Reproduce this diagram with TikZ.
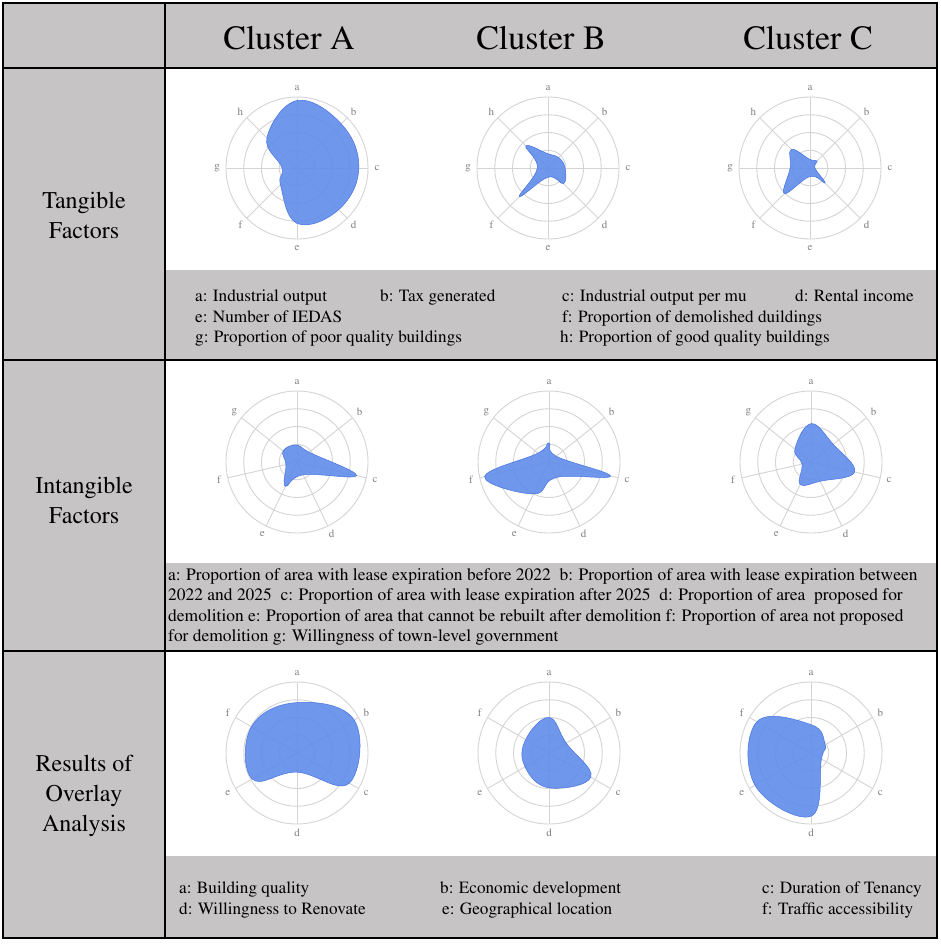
\documentclass[tikz,border=0pt]{standalone}
\usepackage[T1]{fontenc}
\renewcommand{\rmdefault}{ptm}
\definecolor{cellgrey}{RGB}{199,196,197}
\definecolor{blobfill}{RGB}{96,140,235}
\definecolor{blobedge}{RGB}{70,114,224}
\definecolor{ringgrey}{RGB}{212,212,212}
\definecolor{spokegrey}{RGB}{130,130,130}
\newcommand{\radar}[5]{%
  \begin{scope}[shift={#2},y=1pt]
    \coordinate (#1) at (0,0);
    \pgfmathtruncatemacro\nlast{#3-1}
    \foreach \r in {17.75,35.5,53.25,71} \draw[ring] (#1) circle (\r);
    \foreach \lab [count=\i from 0] in {#4} {
      \draw[ring] (#1) -- ({90-360/#3*\i}:71);
      \node[spoke label] (#1-\lab) at ({90-360/#3*\i}:80) {\lab};
    }
    \filldraw[blob] plot[smooth cycle, tension=0.7, samples at={0,...,\nlast}, variable=\k]
      ({90-360/#3*\k}:{71*{#5}[\k]});
  \end{scope}}
\begin{document}
\begin{tikzpicture}[x=1pt,y=-1pt,
  rule/.style={line width=2.6pt,black},
  ring/.style={ringgrey,line width=0.9pt},
  spoke label/.style={text=spokegrey,inner sep=0,font=\fontsize{11}{11}\selectfont},
  blob/.style={fill=blobfill,fill opacity=0.9,draw=blobedge,line width=0.5pt},
  colhead/.style={anchor=base,inner sep=0,font=\fontsize{34}{40}\selectfont},
  rowhead/.style={align=center,inner sep=0,font=\fontsize{24}{30}\selectfont},
  legend/.style={anchor=base west,inner sep=0,font=\fontsize{17.2}{20.5}\selectfont},
  long legend/.style={legend,font=\fontsize{17.45}{20.5}\selectfont}]
  \useasboundingbox (0,0) rectangle (941,945);
  \fill[white] (0,0) rectangle (941,945);
  \fill[cellgrey] (3,3) rectangle (937,68);
  \fill[cellgrey] (3,68) rectangle (165,938);
  \fill[cellgrey] (165,270) rectangle (937,360);
  \fill[cellgrey] (165,563) rectangle (937,651);
  \fill[cellgrey] (165,856) rectangle (937,938);

  \node[colhead] (clA) at (289,49) {Cluster A};
  \node[colhead] (clB) at (541,49) {Cluster B};
  \node[colhead] (clC) at (808,49) {Cluster C};

  \node[rowhead] (tang) at (84,215) {Tangible\\Factors};
  \node[rowhead] (intang) at (84,500) {Intangible\\Factors};
  \node[rowhead] (overlay) at (84,796) {Results of\\Overlay\\Analysis};

  \radar{t1}{(297,168)}{8}{a,b,c,d,e,f,g,h}{0.95,0.88,0.87,0.83,0.78,0.33,0.21,0.6}
  \radar{t2}{(548,168)}{8}{a,b,c,d,e,f,g,h}{0.2,0.21,0.24,0.31,0.13,0.57,0.15,0.44}
  \radar{t3}{(810,168)}{8}{a,b,c,d,e,f,g,h}{0.12,0.14,0.07,0.3,0.12,0.51,0.28,0.37}

  \radar{i1}{(297,462)}{7}{a,b,c,d,e,f,g}{0.24,0.22,0.86,0.2,0.38,0.16,0.25}
  \radar{i2}{(549,462)}{7}{a,b,c,d,e,f,g}{0.27,0.13,0.89,0.24,0.5,0.93,0.2}
  \radar{i3}{(811,462)}{7}{a,b,c,d,e,f,g}{0.54,0.4,0.63,0.3,0.35,0.13,0.29}

  \radar{r1}{(297,753)}{6}{a,b,c,d,e,f}{0.71,0.93,0.85,0.27,0.73,0.74}
  \radar{r2}{(549,753)}{6}{a,b,c,d,e,f}{0.5,0.28,0.68,0.49,0.39,0.38}
  \radar{r3}{(811,753)}{6}{a,b,c,d,e,f}{0.4,0.23,0.17,0.89,0.91,0.88}

  \node[legend] (ta) at (195,301.5) {a: Industrial output};
  \node[legend] (tb) at (380,301.5) {b: Tax generated};
  \node[legend] (tc) at (562,301.5) {c: Industrial output per mu};
  \node[legend] (td) at (795,301.5) {d: Rental income};
  \node[legend] (te) at (195,322) {e: Number of IEDAS};
  \node[legend] (tf) at (562,322) {f: Proportion of demolished duildings};
  \node[legend] (tg) at (195,342.5) {g: Proportion of poor quality buildings};
  \node[legend] (th) at (560,342.5) {h: Proportion of good quality buildings};

  \node[long legend] (il1) at (168,580) {a: Proportion of area with lease expiration before 2022\ \ b: Proportion of area with lease expiration between};
  \node[long legend] (il2) at (168,600.5) {2022 and 2025\ \ c: Proportion of area with lease expiration after 2025\ \ d: Proportion of area\ \ proposed for};
  \node[long legend] (il3) at (168,621) {demolition e: Proportion of area that cannot be rebuilt after demolition f: Proportion of area not proposed};
  \node[long legend] (il4) at (168,641.5) {for demolition g: Willingness of town-level government};

  \node[legend] (ra) at (179,893.5) {a: Building quality};
  \node[legend] (rb) at (440,893.5) {b: Economic development};
  \node[legend] (rc) at (762,893.5) {c: Duration of Tenancy};
  \node[legend] (rd) at (179,914.5) {d: Willingness to Renovate};
  \node[legend] (re) at (442,914.5) {e: Geographical location};
  \node[legend] (rf) at (762,914.5) {f: Traffic accessibility};

  \draw[rule] (3,3) rectangle (937,938);
  \draw[rule] (165,3) -- (165,938);
  \draw[rule] (3,68) -- (937,68);
  \draw[rule] (3,360) -- (937,360);
  \draw[rule] (3,651) -- (937,651);
\end{tikzpicture}
\end{document}
